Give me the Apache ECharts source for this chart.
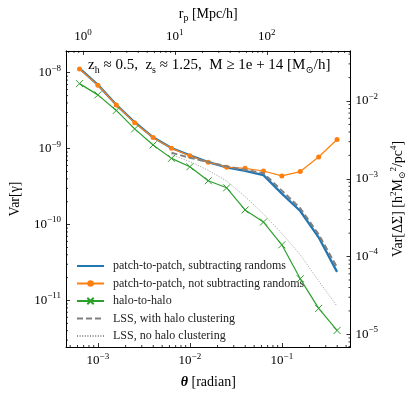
<!DOCTYPE html>
<html>
<head>
<meta charset="utf-8" />
<script src="https://cdn.jsdelivr.net/npm/echarts@6/dist/echarts.min.js"></script>
<style>
  html, body { margin: 0; padding: 0; background: #fff; }
  #chart { width: 415px; height: 394px; }
</style>
</head>
<body>
<div id="chart"></div>
<script>
const serif = 'Liberation Serif, DejaVu Serif, serif';

// angular bins (radian)
const theta = [6.31e-4, 1.0e-3, 1.585e-3, 2.512e-3, 3.981e-3, 6.31e-3, 1.0e-2, 1.585e-2,
  2.512e-2, 3.981e-2, 6.31e-2, 0.1, 0.1585, 0.2512, 0.3981];
const thetaLss = [6.31e-3, 1.0e-2, 1.585e-2, 2.512e-2, 3.981e-2, 6.31e-2, 0.1, 0.1585, 0.2512, 0.3981];

const subtractRandoms = [1.14e-8, 6.92e-9, 3.78e-9, 2.23e-9, 1.41e-9, 1.02e-9, 8.18e-10, 6.66e-10,
  5.66e-10, 5.11e-10, 4.48e-10, 2.56e-10, 1.51e-10, 6.80e-11, 2.38e-11];
const notSubtracting = [1.12e-8, 6.86e-9, 3.76e-9, 2.20e-9, 1.40e-9, 1.01e-9, 8.06e-10, 6.62e-10,
  5.71e-10, 5.50e-10, 5.08e-10, 4.38e-10, 4.99e-10, 7.76e-10, 1.32e-9];
const haloToHalo = [7.19e-9, 5.11e-9, 3.19e-9, 1.82e-9, 1.12e-9, 7.45e-10, 5.78e-10, 3.78e-10,
  3.05e-10, 1.56e-10, 1.08e-10, 5.42e-11, 1.93e-11, 7.86e-12, 4.03e-12];
const lssWithClustering = [8.81e-10, 7.60e-10, 6.66e-10, 5.83e-10, 5.26e-10, 4.75e-10, 2.80e-10,
  1.64e-10, 7.43e-11, 2.73e-11];
const lssNoClustering = [8.31e-10, 6.76e-10, 5.19e-10, 3.75e-10, 2.34e-10, 1.38e-10, 7.65e-11,
  4.00e-11, 1.81e-11, 8.41e-12];

const names = [
  'patch-to-patch, subtracting randoms',
  'patch-to-patch, not subtracting randoms',
  'halo-to-halo',
  'LSS, with halo clustering',
  'LSS, no halo clustering'
];

// axis ranges
const xRange = [4.50e-4, 0.558];
const yRange = [2.44e-12, 1.94e-8];
const rRange = [0.655, 813];
const dsRange = [6.88e-6, 0.04406];

const pairs = (xs, ys) => xs.map((x, i) => [x, ys[i]]);

function minorTicks(lo, hi) {
  const out = [];
  for (let e = Math.floor(Math.log10(lo)); e <= Math.ceil(Math.log10(hi)); e++) {
    for (let k = 2; k <= 9; k++) {
      const v = k * Math.pow(10, e);
      if (v > lo && v < hi) out.push(v);
    }
  }
  return out;
}

const rich = {
  b: { fontFamily: serif, fontSize: 13, color: '#000', lineHeight: 18 },
  s: { fontFamily: serif, fontSize: 9, color: '#000', lineHeight: 8, verticalAlign: 'top' }
};

function powLabel(v) {
  const e = Math.log10(v);
  const r = Math.round(e);
  if (Math.abs(e - r) > 1e-6) return '';
  return '{b|10}{s|' + String(r).replace('-', '\u2212') + '}';
}

// small inward ticks drawn through the axis scales
function tickSeries(values, xIdx, yIdx, side, len) {
  const other = side === 'bottom' || side === 'top' ? (yIdx === 0 ? 1e-10 : 1e-3) : (xIdx === 0 ? 1e-2 : 10);
  const horiz = side === 'bottom' || side === 'top';
  return {
    type: 'custom',
    xAxisIndex: xIdx,
    yAxisIndex: yIdx,
    silent: true,
    z: 10,
    data: values.map(v => horiz ? [v, other] : [other, v]),
    renderItem: (params, api) => {
      const cs = params.coordSys;
      const p = api.coord([api.value(0), api.value(1)]);
      let shape;
      if (side === 'bottom') shape = { x1: p[0], y1: cs.y + cs.height, x2: p[0], y2: cs.y + cs.height - len };
      else if (side === 'top') shape = { x1: p[0], y1: cs.y, x2: p[0], y2: cs.y + len };
      else if (side === 'left') shape = { x1: cs.x, y1: p[1], x2: cs.x + len, y2: p[1] };
      else shape = { x1: cs.x + cs.width, y1: p[1], x2: cs.x + cs.width - len, y2: p[1] };
      return { type: 'line', shape: shape, style: { stroke: '#000', lineWidth: 0.8 } };
    }
  };
}

const axisCommon = {
  type: 'log',
  logBase: 10,
  splitLine: { show: false },
  axisLine: { lineStyle: { color: '#000', width: 1 } },
  axisTick: { inside: true, length: 4, lineStyle: { color: '#000', width: 0.8 } },
  axisLabel: { formatter: powLabel, rich: rich, margin: 5 },
  nameTextStyle: { fontFamily: serif, fontSize: 14, color: '#000' }
};

const chart = echarts.init(document.getElementById('chart'), null, { renderer: 'canvas' });

const hidden = { opacity: 0 };

const option = {
  animation: false,
  backgroundColor: '#fff',
  grid: { left: 62, top: 43, width: 294, height: 304.5 },
  xAxis: [
    Object.assign({}, axisCommon, {
      position: 'bottom', min: xRange[0], max: xRange[1],
      name: '{i|θ} [radian]', nameLocation: 'middle', nameGap: 28,
      nameTextStyle: { fontFamily: serif, fontSize: 14, color: '#000',
        rich: { i: { fontFamily: serif, fontSize: 14, fontStyle: 'italic', fontWeight: 'bold' } } }
    }),
    Object.assign({}, axisCommon, {
      position: 'top', min: rRange[0], max: rRange[1],
      name: 'r{d|p} [Mpc/h]', nameLocation: 'middle', nameGap: 17,
      nameTextStyle: { fontFamily: serif, fontSize: 14, color: '#000', lineHeight: 18,
        rich: { d: { fontFamily: serif, fontSize: 10, lineHeight: 10, verticalAlign: 'bottom' } } }
    })
  ],
  yAxis: [
    Object.assign({}, axisCommon, {
      position: 'left', min: yRange[0], max: yRange[1],
      name: 'Var[γ]', nameLocation: 'middle', nameGap: 44, nameRotate: 90
    }),
    Object.assign({}, axisCommon, {
      position: 'right', min: dsRange[0], max: dsRange[1],
      name: 'Var[ΔΣ] [h{u|2}M{d|⊙}{u|2}/pc{u|4}]', nameLocation: 'middle', nameGap: 34, nameRotate: 90,
      nameTextStyle: { fontFamily: serif, fontSize: 14, color: '#000', lineHeight: 18,
        rich: {
          u: { fontFamily: serif, fontSize: 9, lineHeight: 8, verticalAlign: 'top' },
          d: { fontFamily: serif, fontSize: 9, lineHeight: 9, verticalAlign: 'bottom' }
        } }
    })
  ],
  legend: {
    orient: 'vertical',
    left: 71,
    top: 255,
    itemWidth: 27,
    itemHeight: 8,
    itemGap: 5.5,
    data: [
      { name: names[0], itemStyle: hidden },
      { name: names[1] },
      { name: names[2] },
      { name: names[3], itemStyle: hidden },
      { name: names[4], itemStyle: hidden }
    ],
    textStyle: { fontFamily: serif, fontSize: 12, color: '#222', padding: [0, 0, 0, 4] }
  },
  graphic: [{
    type: 'text',
    left: 88,
    top: 55,
    style: {
      text: 'z{d|h} ≈ 0.5,  z{d|s} ≈ 1.25,  M ≥ 1e + 14 [M{d|⊙}/h]',
      fontFamily: serif, fontSize: 15, fill: '#000', lineHeight: 20,
      rich: {
        d: { fontFamily: serif, fontSize: 10, lineHeight: 10, verticalAlign: 'bottom' }
      }
    }
  }],
  series: [
    {
      name: names[0], type: 'line', data: pairs(theta, subtractRandoms),
      showSymbol: false, symbol: 'none', z: 3,
      lineStyle: { color: '#1f77b4', width: 2.3 }, itemStyle: { color: '#1f77b4' }
    },
    {
      name: names[1], type: 'line', data: pairs(theta, notSubtracting),
      symbol: 'circle', symbolSize: 5, z: 4,
      lineStyle: { color: '#ff7f0e', width: 1.2 }, itemStyle: { color: '#ff7f0e' }
    },
    {
      name: names[2], type: 'line', data: pairs(theta, haloToHalo),
      symbol: 'path://M0,0L10,10M10,0L0,10', symbolSize: 7, z: 4,
      lineStyle: { color: '#2ca02c', width: 1.2 },
      itemStyle: { color: 'rgba(0,0,0,0)', borderColor: '#2ca02c', borderWidth: 1 }
    },
    {
      name: names[3], type: 'line', data: pairs(thetaLss, lssWithClustering),
      symbol: 'none', z: 5,
      lineStyle: { color: '#808080', width: 2, type: [6, 3] }, itemStyle: { color: '#808080' }
    },
    {
      name: names[4], type: 'line', data: pairs(thetaLss, lssNoClustering),
      symbol: 'none', z: 2,
      lineStyle: { color: '#909090', width: 0.9, type: [1, 1.6] }, itemStyle: { color: '#909090' }
    },
    tickSeries(minorTicks(xRange[0], xRange[1]), 0, 0, 'bottom', 2),
    tickSeries(minorTicks(yRange[0], yRange[1]), 0, 0, 'left', 2),
    tickSeries(minorTicks(rRange[0], rRange[1]), 1, 0, 'top', 2),
    tickSeries(minorTicks(dsRange[0], dsRange[1]), 0, 1, 'right', 2)
  ]
};

chart.setOption(option);
</script>
</body>
</html>
